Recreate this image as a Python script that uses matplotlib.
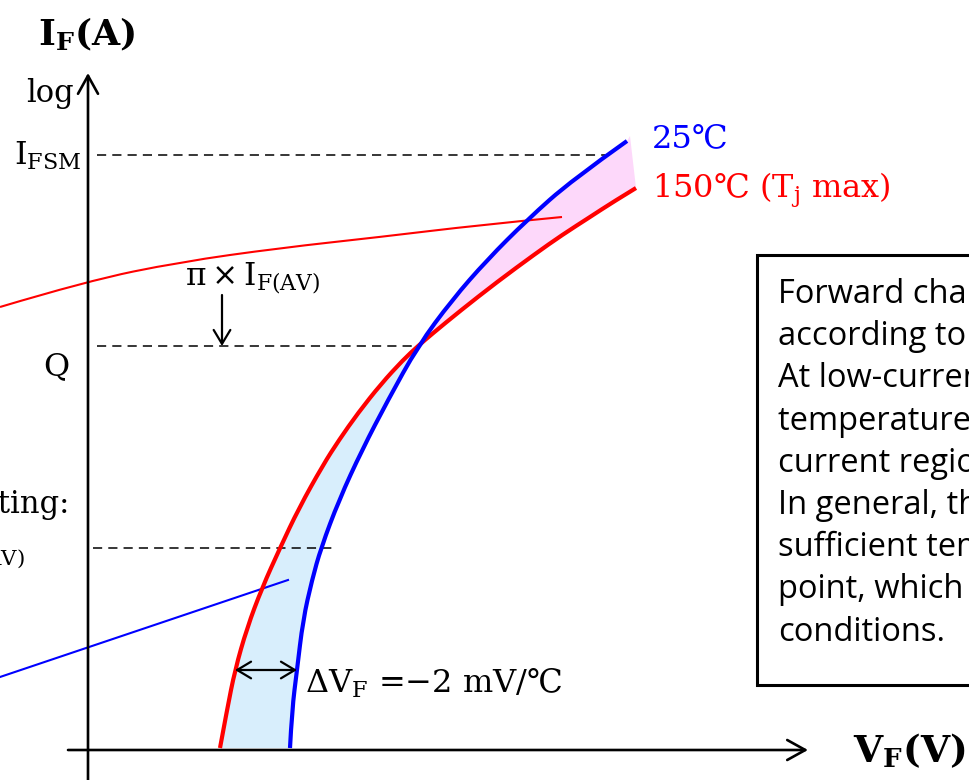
import matplotlib
matplotlib.use("Agg")
import matplotlib.pyplot as plt
from matplotlib.patches import Rectangle, Polygon, PathPatch
from matplotlib.path import Path

plt.rcParams["mathtext.fontset"] = "dejavuserif"
SERIF = ["DejaVu Serif", "Noto Sans CJK JP"]
SANS = ["Open Sans", "DejaVu Sans"]

# curve samples in drawing units (x to the right, y downward)
hot_x = [220, 227, 235, 247, 262, 280, 299, 323, 339, 358, 381, 403, 418, 432, 460, 497, 535, 562, 590, 613, 636]
hot_y = [748, 710, 670, 628, 588, 548, 508, 465, 440, 413, 384, 360, 346, 334, 311, 282, 254, 235, 217, 202, 188]
cold_x = [290, 292, 297, 303, 312, 321, 339, 362, 388, 418, 452, 487, 527, 572, 627]
cold_y = [748, 710, 670, 620, 580, 548, 500, 450, 400, 346, 300, 260, 220, 180, 141]
q_level = 346

# leader lines
red_lead_x = [0, 87, 180, 280, 380, 480, 562]
red_lead_y = [307, 281, 262, 248, 237, 225, 217]
blue_lead_x = [0, 288]
blue_lead_y = [677, 580]

# dashed reference levels: (y, x start, x end)
levels = [(155, 97, 605), (q_level, 97, 418), (548, 93, 335)]

box_lines = [
    "Forward characteristics vary",
    "according to temperature.",
    "At low-current region, the",
    "temperature coefficient is negative;",
    "current region, it is positive.",
    "In general, the device has",
    "sufficient temperature margin at Q",
    "point, which depends on operating",
    "conditions.",
]


def smooth_path(xs, ys):
    # quadratic B-spline through the midpoints, sample points as control points
    pts = list(zip(xs, ys))
    if len(pts) < 3:
        return Path(pts)
    verts = [pts[0]]
    codes = [Path.MOVETO]
    for i in range(1, len(pts) - 1):
        mid = ((pts[i][0] + pts[i + 1][0]) / 2, (pts[i][1] + pts[i + 1][1]) / 2)
        if i == len(pts) - 2:
            mid = pts[-1]
        verts += [pts[i], mid]
        codes += [Path.CURVE3, Path.CURVE3]
    return Path(verts, codes)


fig = plt.figure(figsize=(9.7, 7.8), dpi=100)
ax = fig.add_axes([0, 0, 1, 1])
ax.set_xlim(0, 970)
ax.set_ylim(780, 0)
ax.axis("off")

hot_path = smooth_path(hot_x, hot_y)
cold_path = smooth_path(cold_x, cold_y)
hot_pts = hot_path.to_polygons(closed_only=False)[0]
cold_pts = cold_path.to_polygons(closed_only=False)[0]

# shaded bands between the two curves, split at Q
lo = [tuple(p) for p in cold_pts if p[1] >= q_level] + \
     [tuple(p) for p in hot_pts if p[1] >= q_level][::-1]
ax.add_patch(Polygon(lo, closed=True, fc="#d8eefc", ec="none", zorder=1))
hi = [tuple(p) for p in cold_pts if p[1] <= q_level] + [(630, 136)] + \
     [tuple(p) for p in hot_pts if p[1] <= q_level][::-1]
ax.add_patch(Polygon(hi, closed=True, fc="#fdd8fa", ec="none", zorder=1))

# axes with open arrow heads
arr = dict(arrowstyle="->,head_length=0.65,head_width=0.36", lw=1.9, color="black",
           shrinkA=0, shrinkB=0, mutation_scale=20)
ax.annotate("", xy=(88, 73), xytext=(88, 780), arrowprops=arr, zorder=3)
ax.annotate("", xy=(808, 750), xytext=(68, 750), arrowprops=arr, zorder=3)

for y, x0, x1 in levels:
    ax.plot([x0, x1], [y, y], color="black", lw=1.1, ls=(0, (6, 4)), zorder=2)

ax.add_patch(PathPatch(smooth_path(red_lead_x, red_lead_y), fill=False, ec="#ff0000", lw=1.5, zorder=2))
ax.plot(blue_lead_x, blue_lead_y, color="#0000ff", lw=1.5, zorder=2)
ax.add_patch(PathPatch(hot_path, fill=False, ec="#ff0000", lw=3.0, zorder=4, capstyle="butt"))
ax.add_patch(PathPatch(cold_path, fill=False, ec="#0000ff", lw=3.0, zorder=4, capstyle="butt"))

small = dict(arrowstyle="->,head_length=0.5,head_width=0.3", lw=1.6, color="black",
             shrinkA=0, shrinkB=0, mutation_scale=20)
ax.annotate("", xy=(222, q_level), xytext=(222, 295), arrowprops=small, zorder=5)
small2 = dict(small, arrowstyle="<->,head_length=0.5,head_width=0.3")
ax.annotate("", xy=(297, 670), xytext=(235, 670), arrowprops=small2, zorder=5)

# labels
ax.text(38, 45, r"$\mathbf{I_F}$(A)", fontsize=26, fontweight="bold", family=SERIF)
ax.text(74, 102, "log", fontsize=22, family=SERIF, ha="right")
ax.text(14, 165, r"$\mathrm{I_{FSM}}$", fontsize=23, family=SERIF)
ax.text(69, 375, "Q", fontsize=23, family=SERIF, ha="right")
ax.text(185, 285, r"$\mathrm{\pi\times I_{F(AV)}}$", fontsize=22.5, family=SERIF)
ax.text(70, 513, "Rating:", fontsize=22, family=SERIF, ha="right")
ax.text(25, 561, r"$\mathrm{I_{F(AV)}}$", fontsize=22, family=SERIF, ha="right")
ax.text(652, 147, "25℃", fontsize=23, family=SERIF, color="#0000ff")
ax.text(652, 198, r"150℃ (T$_\mathrm{j}$ max)", fontsize=23, family=SERIF, color="#ff0000")
ax.text(305, 693, r"$\Delta\mathrm{V_F}$ =−2 mV/℃", fontsize=23, family=SERIF)
ax.text(853, 762, r"$\mathbf{V_F}$(V)", fontsize=27, fontweight="bold", family=SERIF)

ax.add_patch(Rectangle((757, 255), 300, 430, fc="white", ec="black", lw=2.2, zorder=6))
for i, line in enumerate(box_lines):
    ax.text(778, 303 + i * 42.2, line, fontsize=23.5, family=SANS, zorder=7)

fig.savefig("out.png", dpi=100)
